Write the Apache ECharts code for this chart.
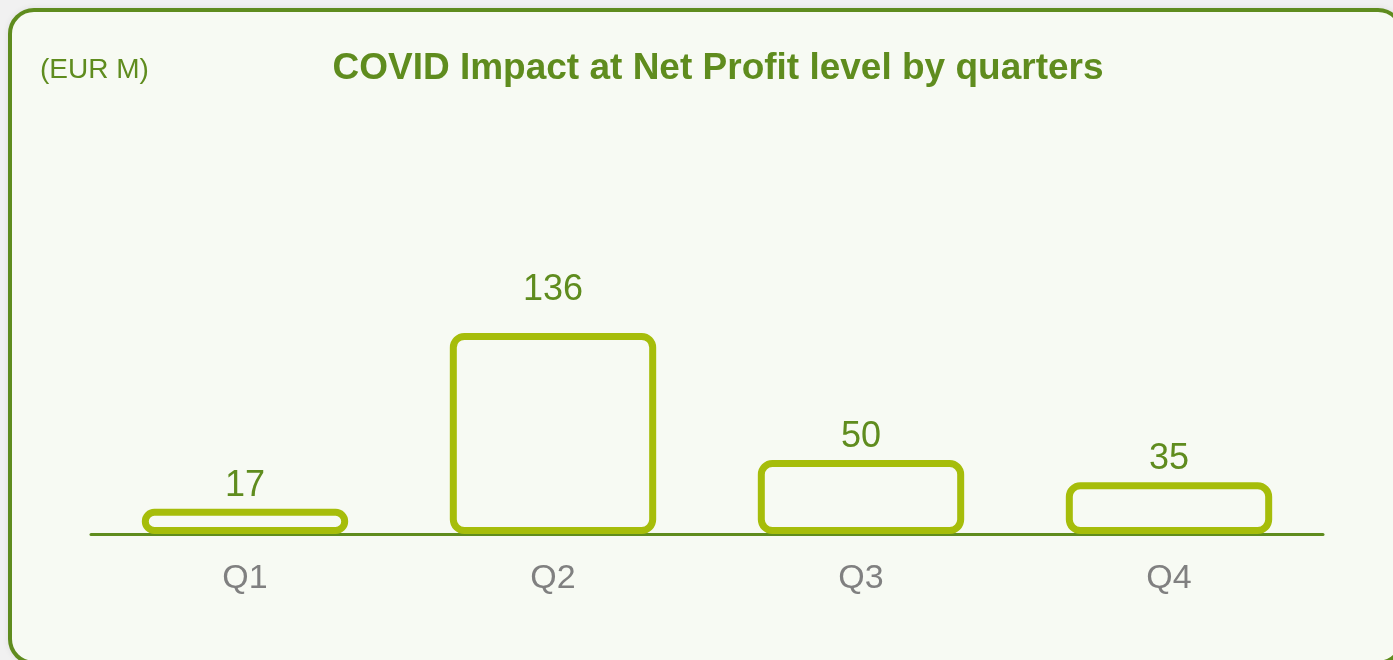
<!DOCTYPE html>
<html>
<head>
<meta charset="utf-8">
<script src="https://cdn.jsdelivr.net/npm/echarts@6/dist/echarts.min.js"></script>
<style>
  html, body { margin: 0; padding: 0; width: 1393px; height: 660px; overflow: hidden; background: #f1f1f1; }
  #card {
    position: absolute; left: 8px; top: 8px; width: 1396px; height: 657px;
    box-sizing: border-box; border: 4px solid #5f8c1e; border-radius: 26px;
    background: #f7faf3; box-shadow: 0 0 6px rgba(0,0,0,0.08);
  }
  #chart { position: absolute; left: 0; top: 0; width: 1393px; height: 660px; }
</style>
</head>
<body>
<div id="card"></div>
<div id="chart"></div>
<script>
// Net profit impact of COVID per quarter, EUR millions
const quarters = ['Q1', 'Q2', 'Q3', 'Q4'];
const impactValues = [17, 136, 50, 35];

const darkGreen = '#5f8c1e';
const barGreen = '#a6bd0a';
const fontFamily = '"Liberation Sans", Arial, sans-serif';

const chart = echarts.init(document.getElementById('chart'), null, { renderer: 'canvas' });

chart.setOption({
  backgroundColor: 'transparent',
  animation: false,
  title: [
    {
      text: 'COVID Impact at Net Profit level by quarters',
      left: 713, top: 45, textAlign: 'center',
      textStyle: { color: darkGreen, fontSize: 37, fontWeight: 'bold', fontFamily: fontFamily }
    },
    {
      text: '(EUR M)',
      left: 35, top: 51,
      textStyle: { color: darkGreen, fontSize: 28, fontWeight: 'normal', fontFamily: fontFamily }
    }
  ],
  grid: { left: 91, right: 70, top: 327, bottom: 126, containLabel: false },
  xAxis: {
    type: 'category',
    data: quarters,
    axisLine: { show: true, lineStyle: { color: darkGreen, width: 3 } },
    axisTick: { show: false },
    axisLabel: { color: '#808080', fontSize: 34, fontFamily: fontFamily, margin: 28 }
  },
  yAxis: {
    type: 'value', min: 0, max: 140,
    show: false,
    splitLine: { show: false }
  },
  series: [{
    type: 'bar',
    data: impactValues.map((v, i) => i === 1
      ? { value: v, label: { distance: 25 } }
      : v),
    barWidth: '67%',
    itemStyle: {
      color: 'rgba(0,0,0,0)',
      borderColor: barGreen,
      borderWidth: 7,
      borderRadius: 11
    },
    label: {
      show: true, position: 'top', distance: 5,
      color: darkGreen, fontSize: 36, fontFamily: fontFamily
    }
  }]
});
</script>
</body>
</html>
